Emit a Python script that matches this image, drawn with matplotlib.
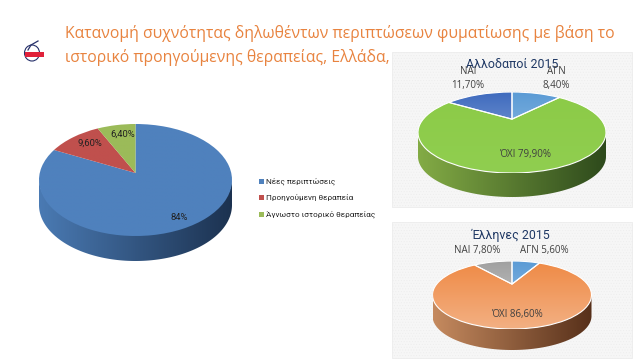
import numpy as np
import matplotlib
matplotlib.use("Agg")
import matplotlib.pyplot as plt
from matplotlib.patches import Polygon, Rectangle, Ellipse, PathPatch
from matplotlib.path import Path
from matplotlib.colors import LinearSegmentedColormap

plt.rcParams['font.family'] = ['Open Sans', 'DejaVu Sans']
plt.rcParams['hatch.color'] = '#ebebeb'
plt.rcParams['hatch.linewidth'] = 0.3
NARROW = ['Roboto', 'Open Sans', 'DejaVu Sans']

title_lines = ["Κατανομή συχνότητας δηλωθέντων περιπτώσεων φυματίωσης με βάση το",
               "ιστορικό προηγούμενης θεραπείας, Ελλάδα,"]

main_names = ["Νέες περιπτώσεις", "Προηγούμενη θεραπεία", "Άγνωστο ιστορικό θεραπείας"]
main_values = [84.0, 9.6, 6.4]
main_labels = ["84%", "9,60%", "6,40%"]

foreign_title = "Αλλοδαποί 2015"
foreign_values = [8.4, 79.9, 11.7]
foreign_labels = ["ΑΓΝ\n8,40%", "ΌΧΙ 79,90%", "ΝΑΙ\n11,70%"]

greek_title = "Έλληνες 2015"
greek_values = [5.6, 86.6, 7.8]
greek_labels = ["ΑΓΝ 5,60%", "ΌΧΙ 86,60%", "ΝΑΙ 7,80%"]

W, H = 640, 360
fig = plt.figure(figsize=(W / 100, H / 100), dpi=100, facecolor='white')
bg = fig.add_axes([0, 0, 1, 1], zorder=0)
bg.set_xlim(0, W); bg.set_ylim(H, 0); bg.axis('off')
top = fig.add_axes([0, 0, 1, 1], zorder=5)
top.set_xlim(0, W); top.set_ylim(H, 0); top.axis('off'); top.patch.set_alpha(0)


def vgrad(ax, patch, c1, c2, extent, horizontal=False, z=2):
    cmap = LinearSegmentedColormap.from_list('g', [c1, c2])
    g = np.linspace(0, 1, 128)
    g = g[None, :] if horizontal else g[:, None]
    im = ax.imshow(g, cmap=cmap, extent=extent, aspect='auto', zorder=z, origin='upper')
    im.set_clip_path(patch)
    return im


def pie3d(values, cx, cy, rx, ry, depth, apex, fills, wall, edge):
    t = np.linspace(0, np.pi, 200)
    xs = cx + rx * np.cos(t)
    low = cy + ry * np.sin(t)
    pts = np.r_[np.c_[xs, low + depth], np.c_[xs[::-1], (low)[::-1] - 2]]
    poly = Polygon(pts, closed=True, transform=bg.transData, fc='none', ec='none')
    bg.add_patch(poly)
    vgrad(bg, poly, wall[0], wall[1], (cx - rx, cx + rx, cy + ry + depth, cy - 2), horizontal=True)
    bg.set_xlim(0, W); bg.set_ylim(H, 0)
    ax = fig.add_axes([(cx - rx) / W, 1 - (cy + ry) / H, 2 * rx / W, 2 * ry / H], zorder=2)
    wedges, _ = ax.pie(values, startangle=90, counterclock=False, radius=1,
                       colors=[f[0] for f in fills], frame=False)
    ax.set_aspect('auto')
    ax.set_xlim(-1, 1); ax.set_ylim(-1, 1); ax.axis('off'); ax.patch.set_alpha(0)
    for w, f in zip(wedges, fills):
        p = w.get_path()
        v = p.vertices.copy()
        v[np.hypot(v[:, 0], v[:, 1]) < 1e-6] = (0, apex)
        w.set_visible(False)
        pp = PathPatch(Path(v, p.codes), fc='none', ec='none')
        ax.add_patch(pp)
        vgrad(ax, pp, f[0], f[1], (-1, 1, -1, 1), z=2)
        ax.add_patch(PathPatch(Path(v, p.codes), fc='none', ec=edge, lw=0.8, zorder=3))
    ax.set_xlim(-1, 1); ax.set_ylim(-1, 1)
    return ax


# panels
for y0, y1 in ((52, 207), (222, 358)):
    bg.add_patch(Rectangle((392, y0), 240, y1 - y0, fc='#f6f6f6', ec='#ececec', lw=0.6,
                           hatch='......', zorder=1))

# title
top.text(65, 33, title_lines[0], color='#E8833F', fontsize=11.33, va='center', ha='left')
top.text(65, 58, title_lines[1], color='#E8833F', fontsize=11.33, va='center', ha='left')

# logo
bg.add_patch(Ellipse((32, 53), 15, 16, fc='white', ec='#26306a', lw=0.8, zorder=3))
bg.add_patch(Rectangle((25, 52), 19, 5, fc='#e0213a', ec='none', zorder=4))
bg.plot([28, 31, 38], [50, 45, 41], color='#26306a', lw=0.9, zorder=4)

# main pie
pie3d(main_values, 135.5, 180, 96.5, 56, 25, 0.125,
      [('#4F81BD', '#4F81BD'), ('#C0504D', '#C0504D'), ('#9BBB59', '#9BBB59')],
      ('#4a7ab3', '#1c3250'), 'none')
top.text(179, 218, main_labels[0], fontsize=6.8, family=NARROW, color='#222222', ha='center', va='center')
top.text(90, 143, main_labels[1], fontsize=6.8, family=NARROW, color='#222222', ha='center', va='center')
top.text(123, 134, main_labels[2], fontsize=6.8, family=NARROW, color='#222222', ha='center', va='center')

# legend
leg_c = ['#4F81BD', '#C0504D', '#9BBB59']
for i, (n, c) in enumerate(zip(main_names, leg_c)):
    y = 181 + i * 16.5
    top.add_patch(Rectangle((259, y - 2.5), 5, 5, fc=c, ec='none'))
    top.text(266, y, n, fontsize=5.9, family=NARROW, color='#222222', ha='left', va='center')

# foreign pie
pie3d(foreign_values, 512, 132.5, 94, 40.5, 24, 0.33,
      [('#5B9BD5', '#A4C8EA'), ('#8CCB47', '#90CE50'), ('#3F6BBE', '#9DB6E2')],
      ('#83ab45', '#2e4a1c'), 'white')
top.text(512, 64, foreign_title, fontsize=8.9, family=NARROW, color='#1F3864', ha='center', va='center')
top.text(468, 78.5, foreign_labels[2], fontsize=7, color='#404040', ha='center', va='center', linespacing=1.3)
top.text(556, 78.5, foreign_labels[0], fontsize=7, color='#404040', ha='center', va='center', linespacing=1.3)
top.text(525, 154, foreign_labels[1], fontsize=7, color='#404040', ha='center', va='center')

# greek pie
pie3d(greek_values, 512, 295, 79.5, 34, 21, 0.32,
      [('#5B9BD5', '#A4C8EA'), ('#EF8A45', '#F3B083'), ('#A0A0A0', '#D4D4D4')],
      ('#c58a5f', '#57301a'), 'white')
top.text(511, 235, greek_title, fontsize=8.9, family=NARROW, color='#1F3864', ha='center', va='center')
top.text(477, 250, greek_labels[2], fontsize=7, color='#404040', ha='center', va='center')
top.text(544, 251, greek_labels[0], fontsize=7, color='#404040', ha='center', va='center')
top.text(517, 314, greek_labels[1], fontsize=7, color='#404040', ha='center', va='center')

fig.savefig('out.png', dpi=100, facecolor='white')
